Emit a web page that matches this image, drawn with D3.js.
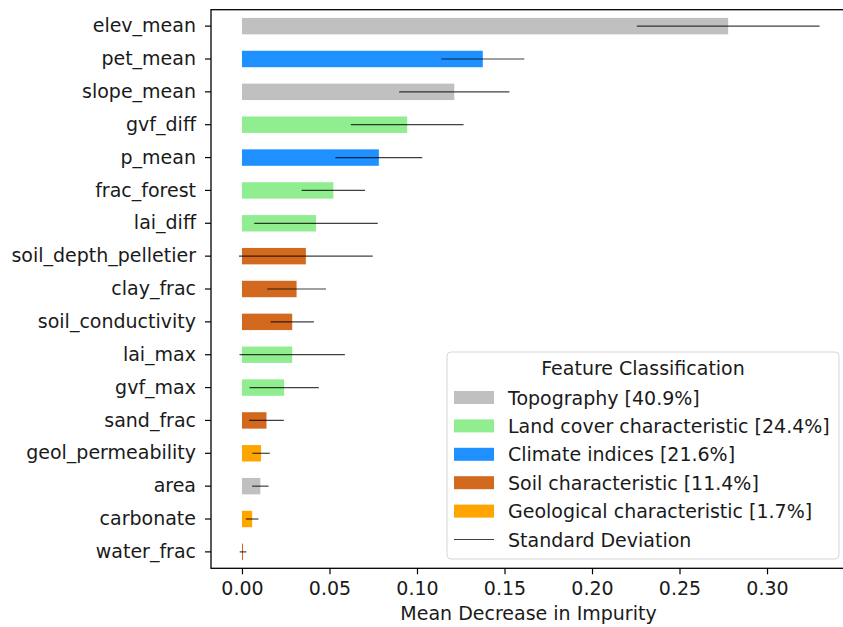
<!DOCTYPE html>
<html>
<head>
<meta charset="utf-8">
<script src="https://cdn.jsdelivr.net/npm/d3@7"></script>
<style>
  body { margin: 0; background: #fff; }
  svg { display: block; font-family: "DejaVu Sans", sans-serif; }
</style>
</head>
<body>
<svg width="843" height="627"></svg>
<script>
// features, top to bottom
const features = ["elev_mean", "pet_mean", "slope_mean", "gvf_diff", "p_mean", "frac_forest",
  "lai_diff", "soil_depth_pelletier", "clay_frac", "soil_conductivity", "lai_max", "gvf_max",
  "sand_frac", "geol_permeability", "area", "carbonate", "water_frac"];
const importance = [0.2778, 0.1376, 0.1213, 0.0944, 0.0782, 0.0522, 0.0423, 0.0365, 0.0312,
  0.0287, 0.0287, 0.0241, 0.0140, 0.0109, 0.0105, 0.0058, 0.0006];
const stdDev = [0.0522, 0.0237, 0.0315, 0.0322, 0.0248, 0.0181, 0.0353, 0.0382, 0.0168,
  0.0124, 0.0301, 0.0198, 0.0099, 0.0050, 0.0047, 0.0036, 0.0019];
const featureClass = ["Topography", "Climate indices", "Topography", "Land cover characteristic",
  "Climate indices", "Land cover characteristic", "Land cover characteristic",
  "Soil characteristic", "Soil characteristic", "Soil characteristic",
  "Land cover characteristic", "Land cover characteristic", "Soil characteristic",
  "Geological characteristic", "Topography", "Geological characteristic", "Soil characteristic"];

const classNames = ["Topography", "Land cover characteristic", "Climate indices",
  "Soil characteristic", "Geological characteristic"];
const classShares = ["40.9%", "24.4%", "21.6%", "11.4%", "1.7%"];
const classColors = ["#c0c0c0", "#90ee90", "#1e90ff", "#d2691e", "#ffa500"];
const xTicks = [0, 0.05, 0.1, 0.15, 0.2, 0.25, 0.3];

const svg = d3.select("svg");
const plotLeft = 211, plotRight = 854, plotTop = 9.7, plotBottom = 568.3;
const fs = 19;

const x = d3.scaleLinear().domain([-0.0177, 0.3497]).range([plotLeft, plotRight]);
const y = d3.scaleBand().domain(features).range([plotTop, plotBottom])
  .paddingInner(0.5).paddingOuter(0.25);
const color = d3.scaleOrdinal().domain(classNames).range(classColors);

const rows = features.map((f, i) => ({
  name: f, value: importance[i], std: stdDev[i], cls: featureClass[i]
}));

// bars
svg.append("g")
  .selectAll("rect")
  .data(rows)
  .join("rect")
  .attr("x", x(0))
  .attr("y", d => y(d.name))
  .attr("width", d => x(d.value) - x(0))
  .attr("height", y.bandwidth())
  .attr("fill", d => color(d.cls));

// error bars
svg.append("g")
  .selectAll("line")
  .data(rows)
  .join("line")
  .attr("x1", d => x(d.value - d.std))
  .attr("x2", d => x(d.value + d.std))
  .attr("y1", d => y(d.name) + y.bandwidth() / 2)
  .attr("y2", d => y(d.name) + y.bandwidth() / 2)
  .attr("stroke", "#000")
  .attr("stroke-opacity", 0.75)
  .attr("stroke-width", 1.2);

// axes
const xAxis = svg.append("g")
  .attr("transform", `translate(0,${plotBottom})`)
  .call(d3.axisBottom(x).tickValues(xTicks).tickFormat(d3.format(".2f"))
    .tickSize(6).tickPadding(7));
const yAxis = svg.append("g")
  .attr("transform", `translate(${plotLeft},0)`)
  .call(d3.axisLeft(y).tickSize(6).tickPadding(9));

[xAxis, yAxis].forEach(a => {
  a.select(".domain").remove();
  a.selectAll("line").attr("stroke", "#000").attr("stroke-width", 1.2);
  a.selectAll("text").attr("font-size", fs).attr("fill", "#1a1a1a")
    .attr("font-family", "DejaVu Sans");
});

// frame
svg.append("rect")
  .attr("x", plotLeft).attr("y", plotTop)
  .attr("width", plotRight - plotLeft).attr("height", plotBottom - plotTop)
  .attr("fill", "none").attr("stroke", "#000").attr("stroke-width", 1.3);

svg.append("text")
  .attr("x", (plotLeft + plotRight) / 2 - 4)
  .attr("y", 620)
  .attr("text-anchor", "middle")
  .attr("font-size", fs)
  .attr("fill", "#1a1a1a")
  .text("Mean Decrease in Impurity");

// legend
const legend = svg.append("g");
legend.append("rect")
  .attr("x", 447).attr("y", 352)
  .attr("width", 392).attr("height", 207)
  .attr("rx", 4)
  .attr("fill", "#fff").attr("fill-opacity", 0.85)
  .attr("stroke", "#d6d6d6");

legend.append("text")
  .attr("x", 643).attr("y", 375)
  .attr("text-anchor", "middle")
  .attr("font-size", fs)
  .attr("fill", "#1a1a1a")
  .text("Feature Classification");

const item = legend.selectAll("g.item")
  .data(classNames.map((c, i) => ({ name: c, share: classShares[i] })))
  .join("g")
  .attr("class", "item")
  .attr("transform", (d, i) => `translate(0,${397.5 + i * 28.4})`);

item.append("rect")
  .attr("x", 454).attr("y", -6.5)
  .attr("width", 40).attr("height", 13)
  .attr("fill", d => color(d.name));

item.append("text")
  .attr("x", 508).attr("y", 7)
  .attr("font-size", fs)
  .attr("fill", "#1a1a1a")
  .text(d => `${d.name} [${d.share}]`);

const stdRow = legend.append("g")
  .attr("transform", `translate(0,${397.5 + 5 * 28.4})`);
stdRow.append("line")
  .attr("x1", 454).attr("x2", 494)
  .attr("stroke", "#000").attr("stroke-opacity", 0.75).attr("stroke-width", 1.2);
stdRow.append("text")
  .attr("x", 508).attr("y", 7)
  .attr("font-size", fs)
  .attr("fill", "#1a1a1a")
  .text("Standard Deviation");
</script>
</body>
</html>
